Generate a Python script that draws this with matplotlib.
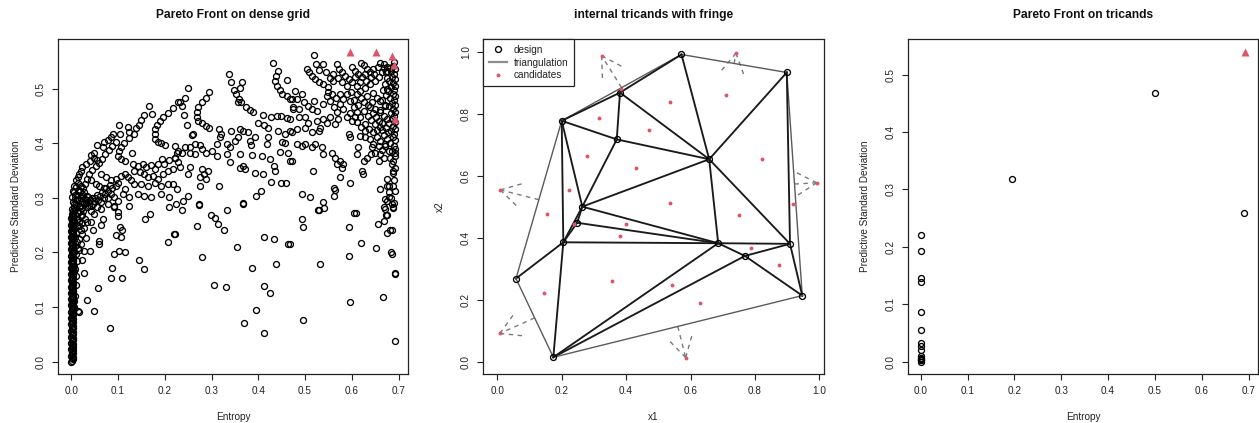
import matplotlib

matplotlib.use("Agg")
import matplotlib.pyplot as plt  # noqa: E402
import matplotlib.tri as mtri  # noqa: E402
import numpy as np  # noqa: E402
from matplotlib.lines import Line2D  # noqa: E402

plt.rcParams["font.family"] = ["Liberation Sans", "DejaVu Sans"]

RED = "#DF536B"
INK = "#1a1a1a"
GREY = "#7a7a7a"
FS = 7.2

# ---- dense grid: (entropy, predictive sd) ----
# the bulk of the grid sits at zero entropy
column_sd = [
    0.000, 0.002, 0.005, 0.007, 0.009, 0.011, 0.014, 0.016, 0.018, 0.021, 0.023, 0.025,
    0.027, 0.030, 0.032, 0.034, 0.037, 0.039, 0.041, 0.043, 0.046, 0.048, 0.050, 0.053,
    0.055, 0.057, 0.059, 0.062, 0.064, 0.066, 0.069, 0.071, 0.073, 0.075, 0.078, 0.080,
    0.082, 0.085, 0.087, 0.089, 0.091, 0.094, 0.096, 0.098, 0.101, 0.103, 0.105, 0.107,
    0.110, 0.112, 0.114, 0.117, 0.119, 0.121, 0.123, 0.126, 0.128, 0.130, 0.133, 0.135,
    0.137, 0.139, 0.142, 0.144, 0.146, 0.149, 0.151, 0.153, 0.155, 0.158, 0.160, 0.162,
    0.165, 0.167, 0.169, 0.171, 0.174, 0.176, 0.178, 0.181, 0.183, 0.185, 0.187, 0.190,
    0.192, 0.194, 0.197, 0.199, 0.201, 0.203, 0.206, 0.208, 0.210, 0.213, 0.215, 0.217,
    0.219, 0.222, 0.224, 0.226, 0.229, 0.231, 0.233, 0.235, 0.238, 0.240, 0.242, 0.245,
    0.247, 0.249, 0.251, 0.254, 0.256, 0.258, 0.261, 0.263, 0.265, 0.267, 0.270, 0.272,
]
column_ent = [
    0.000, 0.002, 0.004, 0.001, 0.003, 0.000, 0.002, 0.004, 0.001, 0.003, 0.000, 0.002,
    0.004, 0.001, 0.003, 0.000, 0.002, 0.004, 0.001, 0.003, 0.000, 0.002, 0.004, 0.001,
    0.003, 0.000, 0.002, 0.004, 0.001, 0.003, 0.000, 0.002, 0.004, 0.001, 0.003, 0.000,
    0.002, 0.004, 0.001, 0.003, 0.000, 0.002, 0.004, 0.001, 0.003, 0.000, 0.002, 0.004,
    0.001, 0.003, 0.000, 0.002, 0.004, 0.001, 0.003, 0.000, 0.002, 0.004, 0.001, 0.003,
    0.000, 0.002, 0.004, 0.001, 0.003, 0.000, 0.002, 0.004, 0.001, 0.003, 0.000, 0.002,
    0.004, 0.001, 0.003, 0.000, 0.002, 0.004, 0.001, 0.003, 0.000, 0.002, 0.004, 0.001,
    0.003, 0.000, 0.002, 0.004, 0.001, 0.003, 0.000, 0.002, 0.004, 0.001, 0.003, 0.000,
    0.002, 0.004, 0.001, 0.003, 0.000, 0.002, 0.004, 0.001, 0.003, 0.000, 0.002, 0.004,
    0.001, 0.003, 0.000, 0.002, 0.004, 0.001, 0.003, 0.000, 0.002, 0.004, 0.001, 0.003,
]
grid_knee = [
    (0.003, 0.276), (0.006, 0.284), (0.004, 0.292), (0.008, 0.298), (0.011, 0.288), (0.013, 0.305),
    (0.006, 0.310), (0.016, 0.296), (0.019, 0.285), (0.022, 0.293), (0.018, 0.312), (0.024, 0.304),
    (0.027, 0.291), (0.030, 0.298), (0.010, 0.320), (0.014, 0.327), (0.020, 0.322), (0.009, 0.268),
    (0.015, 0.272), (0.012, 0.262), (0.021, 0.266), (0.026, 0.276), (0.033, 0.283), (0.036, 0.292),
    (0.005, 0.258), (0.017, 0.255), (0.007, 0.245), (0.011, 0.235), (0.004, 0.225), (0.008, 0.212),
    (0.005, 0.200), (0.003, 0.185), (0.006, 0.175), (0.002, 0.150), (0.004, 0.130), (0.032, 0.297),
    (0.054, 0.306), (0.075, 0.319),
    (0.002, 0.280), (0.005, 0.288), (0.009, 0.306), (0.012, 0.296), (0.016, 0.283), (0.020, 0.300),
    (0.023, 0.282), (0.027, 0.310), (0.031, 0.290), (0.034, 0.303), (0.038, 0.286), (0.040, 0.297),
    (0.044, 0.300), (0.047, 0.288), (0.051, 0.300), (0.057, 0.297), (0.061, 0.304), (0.066, 0.310),
    (0.069, 0.300), (0.072, 0.308), (0.079, 0.300), (0.082, 0.324), (0.088, 0.318), (0.095, 0.322),
    (0.101, 0.328), (0.026, 0.318), (0.030, 0.326), (0.034, 0.334), (0.038, 0.344), (0.045, 0.352),
    (0.052, 0.358), (0.059, 0.364), (0.065, 0.372), (0.072, 0.380), (0.080, 0.388), (0.088, 0.395),
    (0.096, 0.403), (0.011, 0.281), (0.018, 0.276), (0.024, 0.268), (0.029, 0.262), (0.033, 0.255),
    (0.022, 0.254), (0.027, 0.245), (0.013, 0.248), (0.009, 0.228), (0.013, 0.220), (0.016, 0.205),
    (0.012, 0.185), (0.008, 0.170), (0.010, 0.140), (0.007, 0.120), (0.005, 0.100),
]
grid_left = [
    (0.167, 0.469), (0.172, 0.454), (0.155, 0.452), (0.149, 0.443), (0.144, 0.434), (0.139, 0.428),
    (0.134, 0.418), (0.124, 0.420), (0.121, 0.430), (0.103, 0.434), (0.105, 0.417), (0.089, 0.417),
    (0.084, 0.411), (0.078, 0.406), (0.071, 0.402), (0.056, 0.397), (0.067, 0.394),
    (0.228, 0.475), (0.217, 0.465), (0.206, 0.455), (0.196, 0.448), (0.189, 0.441), (0.184, 0.434),
    (0.179, 0.426), (0.178, 0.417), (0.180, 0.408), (0.185, 0.403), (0.192, 0.400), (0.201, 0.397),
    (0.124, 0.410), (0.112, 0.400), (0.106, 0.394), (0.103, 0.386), (0.101, 0.377), (0.106, 0.371),
    (0.114, 0.367), (0.129, 0.383),
    (0.048, 0.383), (0.042, 0.379), (0.049, 0.374), (0.055, 0.369), (0.039, 0.368), (0.031, 0.362),
    (0.024, 0.357), (0.021, 0.350), (0.017, 0.344), (0.014, 0.338), (0.010, 0.332), (0.006, 0.322),
    (0.003, 0.313), (0.001, 0.301),
    (0.131, 0.363), (0.142, 0.359), (0.153, 0.362), (0.160, 0.357), (0.171, 0.361), (0.178, 0.353),
    (0.185, 0.363), (0.194, 0.371), (0.199, 0.362), (0.210, 0.369), (0.221, 0.374), (0.226, 0.383),
    (0.135, 0.350), (0.146, 0.347), (0.156, 0.344), (0.164, 0.338), (0.174, 0.341), (0.185, 0.335),
    (0.196, 0.344), (0.206, 0.350), (0.217, 0.353),
    (0.064, 0.344), (0.074, 0.338), (0.085, 0.332), (0.096, 0.335), (0.106, 0.341), (0.114, 0.344),
    (0.121, 0.338), (0.128, 0.332),
    (0.042, 0.332), (0.053, 0.325), (0.060, 0.321), (0.071, 0.318), (0.078, 0.313), (0.085, 0.307),
    (0.092, 0.301), (0.099, 0.295),
    (0.114, 0.316), (0.135, 0.325), (0.149, 0.325), (0.164, 0.322), (0.178, 0.328), (0.192, 0.322),
    (0.206, 0.325), (0.217, 0.325),
    (0.110, 0.307), (0.124, 0.301), (0.142, 0.307), (0.156, 0.304), (0.171, 0.301), (0.192, 0.308),
    (0.210, 0.301), (0.224, 0.289),
    (0.014, 0.313), (0.024, 0.307), (0.035, 0.301), (0.049, 0.295), (0.064, 0.292), (0.078, 0.289),
    (0.092, 0.286), (0.042, 0.286),
]
grid_mid = [
    (0.431, 0.548), (0.443, 0.533), (0.437, 0.524), (0.436, 0.515), (0.439, 0.505), (0.446, 0.498),
    (0.450, 0.490), (0.461, 0.487), (0.471, 0.481), (0.461, 0.516), (0.475, 0.463),
    (0.338, 0.527), (0.341, 0.513), (0.348, 0.498), (0.353, 0.490), (0.358, 0.481), (0.364, 0.475),
    (0.373, 0.466), (0.382, 0.461), (0.389, 0.457), (0.366, 0.512), (0.361, 0.502), (0.357, 0.475),
    (0.249, 0.501), (0.243, 0.484), (0.232, 0.475), (0.237, 0.469),
    (0.295, 0.495), (0.288, 0.484), (0.279, 0.475), (0.271, 0.466), (0.268, 0.458), (0.268, 0.448),
    (0.271, 0.441), (0.279, 0.437), (0.289, 0.432), (0.295, 0.429),
    (0.241, 0.452), (0.247, 0.434), (0.259, 0.416),
    (0.410, 0.452), (0.427, 0.449), (0.439, 0.450), (0.449, 0.450), (0.461, 0.447), (0.468, 0.444),
    (0.400, 0.438), (0.413, 0.434), (0.421, 0.429), (0.443, 0.423), (0.457, 0.417), (0.471, 0.421),
    (0.316, 0.427), (0.321, 0.417), (0.318, 0.411), (0.341, 0.423), (0.361, 0.426), (0.368, 0.423),
    (0.377, 0.420), (0.357, 0.411), (0.350, 0.405), (0.332, 0.399), (0.339, 0.393), (0.311, 0.399),
    (0.382, 0.405), (0.384, 0.397), (0.393, 0.411), (0.421, 0.411), (0.418, 0.399), (0.450, 0.402),
    (0.457, 0.400), (0.464, 0.383), (0.446, 0.385),
    (0.221, 0.396), (0.229, 0.386), (0.236, 0.383), (0.243, 0.394), (0.254, 0.393), (0.264, 0.399),
    (0.275, 0.397), (0.279, 0.389), (0.289, 0.383), (0.300, 0.386), (0.254, 0.383), (0.264, 0.380),
    (0.221, 0.374), (0.229, 0.365), (0.232, 0.356), (0.261, 0.417),
    (0.311, 0.377), (0.332, 0.380), (0.339, 0.365), (0.361, 0.380), (0.368, 0.359), (0.361, 0.354),
    (0.371, 0.353), (0.386, 0.379), (0.407, 0.376), (0.425, 0.371), (0.434, 0.359), (0.436, 0.350),
    (0.393, 0.345), (0.409, 0.344), (0.427, 0.330), (0.449, 0.327), (0.459, 0.327), (0.468, 0.367),
    (0.279, 0.353), (0.284, 0.344), (0.293, 0.350), (0.289, 0.335), (0.275, 0.338), (0.254, 0.356),
    (0.250, 0.343),
    (0.316, 0.321), (0.275, 0.321), (0.227, 0.316), (0.249, 0.304), (0.239, 0.295), (0.273, 0.289),
    (0.395, 0.304), (0.405, 0.313), (0.368, 0.291),
]
grid_right = [
    (0.519, 0.562), (0.538, 0.546), (0.568, 0.546), (0.505, 0.537), (0.509, 0.530), (0.514, 0.524),
    (0.521, 0.518), (0.529, 0.512), (0.539, 0.509), (0.550, 0.504), (0.560, 0.528), (0.572, 0.536),
    (0.579, 0.530), (0.586, 0.524), (0.593, 0.518), (0.600, 0.512), (0.611, 0.505), (0.620, 0.548),
    (0.625, 0.543), (0.632, 0.536), (0.639, 0.530), (0.646, 0.537), (0.661, 0.548), (0.668, 0.539),
    (0.664, 0.530), (0.675, 0.532), (0.682, 0.539),
    (0.607, 0.521), (0.618, 0.496), (0.629, 0.502), (0.639, 0.509), (0.650, 0.515), (0.657, 0.521),
    (0.632, 0.487), (0.645, 0.492), (0.654, 0.484), (0.661, 0.478), (0.643, 0.475), (0.639, 0.466),
    (0.650, 0.463), (0.661, 0.457), (0.671, 0.469),
    (0.479, 0.496), (0.482, 0.481), (0.493, 0.490), (0.498, 0.475), (0.507, 0.469), (0.518, 0.478),
    (0.514, 0.463), (0.525, 0.459), (0.539, 0.472), (0.546, 0.487), (0.554, 0.478), (0.561, 0.466),
    (0.568, 0.457), (0.575, 0.472), (0.582, 0.481), (0.589, 0.490), (0.596, 0.478), (0.604, 0.466),
    (0.611, 0.457), (0.618, 0.448), (0.629, 0.435), (0.582, 0.463), (0.589, 0.448), (0.600, 0.441),
    (0.554, 0.448), (0.539, 0.445), (0.525, 0.441), (0.532, 0.429), (0.546, 0.438), (0.564, 0.435),
    (0.571, 0.445),
    (0.468, 0.481), (0.475, 0.466), (0.486, 0.463), (0.486, 0.448), (0.500, 0.448), (0.507, 0.438),
    (0.500, 0.429), (0.482, 0.426), (0.468, 0.423), (0.514, 0.420), (0.529, 0.423),
    (0.482, 0.398), (0.493, 0.396), (0.500, 0.399), (0.514, 0.393), (0.521, 0.399), (0.536, 0.393),
    (0.539, 0.380), (0.557, 0.383), (0.564, 0.374), (0.575, 0.368), (0.582, 0.362), (0.579, 0.355),
    (0.568, 0.362),
    (0.593, 0.417), (0.596, 0.411), (0.618, 0.414), (0.629, 0.411), (0.639, 0.408), (0.646, 0.399),
    (0.654, 0.411), (0.661, 0.405), (0.671, 0.396), (0.679, 0.386), (0.682, 0.374), (0.686, 0.362),
    (0.689, 0.350), (0.643, 0.393), (0.650, 0.383), (0.661, 0.380), (0.657, 0.368), (0.668, 0.374),
    (0.614, 0.393), (0.611, 0.380), (0.471, 0.368),
    (0.516, 0.350), (0.575, 0.338), (0.596, 0.328), (0.621, 0.350), (0.623, 0.344), (0.661, 0.316),
    (0.675, 0.335), (0.675, 0.322), (0.679, 0.310), (0.679, 0.301), (0.675, 0.295), (0.686, 0.289),
    (0.493, 0.308), (0.511, 0.302), (0.562, 0.318), (0.561, 0.304), (0.539, 0.292), (0.693, 0.383),
    (0.564, 0.314), (0.604, 0.273), (0.527, 0.278),
    (0.600, 0.540), (0.607, 0.533), (0.614, 0.527), (0.622, 0.522), (0.630, 0.515), (0.640, 0.522),
    (0.648, 0.528), (0.655, 0.540), (0.628, 0.527), (0.618, 0.513), (0.612, 0.490), (0.620, 0.483),
    (0.627, 0.476), (0.634, 0.470), (0.645, 0.455), (0.652, 0.448), (0.659, 0.441), (0.650, 0.435),
    (0.642, 0.442), (0.635, 0.450), (0.625, 0.460), (0.614, 0.470), (0.605, 0.480), (0.598, 0.495),
    (0.590, 0.505), (0.580, 0.512), (0.570, 0.520), (0.560, 0.515), (0.553, 0.520), (0.545, 0.530),
    (0.530, 0.535), (0.523, 0.545), (0.548, 0.495), (0.557, 0.490), (0.566, 0.484), (0.574, 0.490),
    (0.597, 0.455), (0.606, 0.448), (0.612, 0.440), (0.620, 0.430), (0.628, 0.422), (0.636, 0.427),
    (0.645, 0.420), (0.653, 0.425), (0.660, 0.430), (0.665, 0.425), (0.657, 0.395), (0.664, 0.388),
    (0.640, 0.380), (0.632, 0.373), (0.625, 0.368),
]
grid_edge = [
    (0.690, 0.550), (0.688, 0.542), (0.693, 0.536), (0.684, 0.533), (0.691, 0.528), (0.686, 0.522),
    (0.693, 0.518), (0.680, 0.515), (0.689, 0.511), (0.693, 0.505), (0.684, 0.503), (0.691, 0.498),
    (0.678, 0.496), (0.687, 0.491), (0.693, 0.487), (0.682, 0.484), (0.690, 0.479), (0.685, 0.474),
    (0.693, 0.470), (0.679, 0.468), (0.688, 0.463), (0.692, 0.458), (0.683, 0.455), (0.690, 0.450),
    (0.686, 0.444), (0.693, 0.440), (0.680, 0.437), (0.689, 0.432), (0.693, 0.426), (0.684, 0.423),
    (0.691, 0.418), (0.687, 0.412), (0.693, 0.406), (0.682, 0.401), (0.690, 0.396), (0.692, 0.390),
    (0.686, 0.386), (0.693, 0.376), (0.689, 0.368), (0.692, 0.355), (0.687, 0.346), (0.691, 0.333),
    (0.688, 0.322), (0.693, 0.312), (0.684, 0.300), (0.690, 0.290), (0.676, 0.540), (0.672, 0.530),
    (0.668, 0.545), (0.675, 0.520), (0.670, 0.508), (0.676, 0.500), (0.666, 0.497), (0.673, 0.488),
    (0.664, 0.480), (0.671, 0.470), (0.660, 0.462), (0.668, 0.450), (0.675, 0.445), (0.664, 0.438),
    (0.672, 0.428), (0.678, 0.420), (0.668, 0.415), (0.676, 0.408), (0.670, 0.398),
    (0.679, 0.322), (0.671, 0.298), (0.670, 0.280), (0.673, 0.268), (0.669, 0.257), (0.682, 0.242),
    (0.688, 0.282), (0.686, 0.198),
]
grid_low = [
    (0.017, 0.248), (0.021, 0.242), (0.024, 0.233), (0.031, 0.227), (0.017, 0.224), (0.021, 0.215),
    (0.014, 0.209), (0.028, 0.203), (0.010, 0.197), (0.024, 0.187), (0.006, 0.166), (0.028, 0.163),
    (0.010, 0.157), (0.006, 0.111), (0.017, 0.090), (0.014, 0.093), (0.039, 0.203), (0.046, 0.242),
    (0.042, 0.255), (0.049, 0.270), (0.060, 0.221), (0.060, 0.216), (0.067, 0.261), (0.064, 0.250),
    (0.048, 0.092), (0.034, 0.113), (0.058, 0.134), (0.083, 0.061), (0.087, 0.172), (0.086, 0.153),
    (0.109, 0.153), (0.091, 0.197), (0.103, 0.203), (0.115, 0.200), (0.144, 0.187), (0.156, 0.169),
    (0.096, 0.232), (0.106, 0.228), (0.105, 0.247), (0.108, 0.242), (0.099, 0.267), (0.101, 0.275),
    (0.092, 0.283), (0.124, 0.285), (0.158, 0.261), (0.169, 0.271), (0.210, 0.283), (0.206, 0.220),
    (0.219, 0.233), (0.064, 0.279), (0.042, 0.276), (0.056, 0.283),
    (0.236, 0.277), (0.273, 0.287), (0.332, 0.277), (0.368, 0.288), (0.299, 0.269), (0.307, 0.264),
    (0.314, 0.252), (0.327, 0.242), (0.268, 0.248), (0.221, 0.234), (0.279, 0.192), (0.355, 0.210),
    (0.412, 0.229), (0.434, 0.224), (0.464, 0.215), (0.386, 0.171), (0.437, 0.178), (0.306, 0.140),
    (0.331, 0.137), (0.413, 0.139), (0.424, 0.125), (0.394, 0.095), (0.369, 0.071), (0.413, 0.052),
    (0.529, 0.277), (0.541, 0.281), (0.494, 0.262), (0.495, 0.247), (0.468, 0.215), (0.609, 0.273),
    (0.594, 0.247), (0.669, 0.283), (0.689, 0.283), (0.675, 0.268), (0.655, 0.253), (0.676, 0.236),
    (0.686, 0.241), (0.619, 0.218), (0.651, 0.208), (0.683, 0.201), (0.594, 0.194), (0.531, 0.179),
    (0.693, 0.161), (0.692, 0.162), (0.666, 0.118), (0.595, 0.109), (0.495, 0.076), (0.692, 0.037),
]
grid_front = [(0.595, 0.568), (0.652, 0.568), (0.686, 0.560), (0.691, 0.544), (0.693, 0.445)]

# ---- design and fringe candidates on [0,1]^2 ----
design_x1 = [0.572, 0.899, 0.381, 0.200, 0.371, 0.658, 0.264, 0.248,
             0.205, 0.686, 0.909, 0.769, 0.058, 0.947, 0.174]
design_x2 = [0.991, 0.933, 0.868, 0.777, 0.717, 0.653, 0.500, 0.448,
             0.385, 0.382, 0.380, 0.341, 0.268, 0.213, 0.014]
# hull edge (design indices) each fringe candidate was pushed out from
fringe_edge = [(3, 0), (0, 1), (1, 13), (13, 14), (14, 12), (12, 3)]
fringe_x1 = [0.324, 0.741, 0.992, 0.585, 0.008, 0.009]
fringe_x2 = [0.987, 0.995, 0.577, 0.013, 0.091, 0.554]

# ---- pareto front on tricands ----
tri_entropy = [0.001, 0.001, 0.001, 0.001, 0.001, 0.001, 0.001, 0.001, 0.001, 0.001,
               0.001, 0.001, 0.000, 0.001, 0.000, 0.194, 0.500, 0.690]
tri_sd = [0.221, 0.193, 0.146, 0.139, 0.087, 0.055, 0.032, 0.028, 0.021, 0.009,
          0.006, 0.004, 0.003, 0.002, 0.000, 0.319, 0.4675, 0.259]
tri_front_entropy = [0.6931]
tri_front_sd = [0.540]


def r_range(*vals):
    v = np.concatenate([np.ravel(a) for a in vals])
    d = (v.max() - v.min()) * 0.04
    return v.min() - d, v.max() + d


def style(ax, title, xlabel, ylabel, xticks, yticks, ylab_x):
    for s in ax.spines.values():
        s.set_linewidth(0.9)
        s.set_color("#222222")
    ax.set_xticks(xticks)
    ax.set_yticks(yticks)
    ax.set_xticklabels([f"{t:.1f}" for t in xticks])
    ax.set_yticklabels([f"{t:.1f}" for t in yticks])
    ax.tick_params(direction="out", length=4.3, width=0.8, labelsize=FS,
                   colors="#222222", pad=4.6)
    for lab in ax.get_yticklabels():
        lab.set_rotation(90)
        lab.set_va("center")
    ax.text(0.5, 1.0726, title, transform=ax.transAxes, ha="center", va="center",
            fontsize=8.64, fontweight="bold", color="#111111")
    ax.set_xlabel(xlabel, fontsize=FS, color="#222222")
    ax.set_ylabel(ylabel, fontsize=FS, color="#222222")
    ax.xaxis.set_label_coords(0.5, -0.1276)
    ax.xaxis.label.set_va("center")
    ax.yaxis.set_label_coords(ylab_x, 0.5)
    ax.yaxis.label.set_va("center")


W, H = 1259, 423
fig = plt.figure(figsize=(W / 100, H / 100), dpi=100)


def box(left, right, top=39.3, bottom=374.0):
    return [left / W, (H - bottom) / H, (right - left) / W, (bottom - top) / H]


circ = dict(ls="none", marker="o", mfc="none", mec="black", ms=4.3, mew=0.95)
tri_mark = dict(ls="none", marker="^", color=RED, mec="none", ms=6.2)

# left: dense grid
ax1 = fig.add_axes(box(58.3, 408.3))
pts = np.array(grid_knee + grid_left + grid_mid + grid_right + grid_edge + grid_low)
front = np.array(grid_front)
ax1.plot(column_ent, column_sd, **circ)
ax1.plot(pts[:, 0], pts[:, 1], **circ)
ax1.plot(front[:, 0], front[:, 1], **tri_mark)
ax1.set_xlim(r_range(pts[:, 0], column_ent, front[:, 0]))
ax1.set_ylim(r_range(pts[:, 1], column_sd, front[:, 1]))
style(ax1, "Pareto Front on dense grid", "Entropy", "Predictive Standard Deviation",
      np.arange(0, 0.71, 0.1), np.arange(0, 0.51, 0.1), -0.121)

# middle: triangulation with fringe
ax2 = fig.add_axes(box(483.3, 824.0))
ax2.set_xlim(-0.0435, 1.0146)
ax2.set_ylim(-0.04, 1.04)
dx = np.array(design_x1)
dy = np.array(design_x2)
tri = mtri.Triangulation(dx, dy)
for t, verts in enumerate(tri.triangles):
    for j in range(3):
        a, b = verts[j], verts[(j + 1) % 3]
        nb = tri.neighbors[t, j]
        if nb == -1:
            ax2.plot(dx[[a, b]], dy[[a, b]], color="#5a5a5a", lw=1.0, zorder=2)
        elif nb > t:
            ax2.plot(dx[[a, b]], dy[[a, b]], color=INK, lw=1.35, zorder=2)
ax2.plot(dx, dy, **circ, zorder=3)
cx = dx[tri.triangles].mean(axis=1)
cy = dy[tri.triangles].mean(axis=1)
ax2.plot(cx, cy, ls="none", marker="o", color=RED, mec="none", ms=2.8, zorder=4)
ax2.plot(fringe_x1, fringe_x2, ls="none", marker="o", color=RED, mec="none", ms=2.8, zorder=4)

# dashed arrows from hull-edge midpoints out to the fringe candidates
dash = dict(color=GREY, lw=1.0, ls=(0, (3.2, 3.2)), zorder=1)
to_px = ax2.transData
for (i, k), fx, fy in zip(fringe_edge, fringe_x1, fringe_x2):
    mx, my = (dx[i] + dx[k]) / 2, (dy[i] + dy[k]) / 2
    ax2.plot([mx, fx], [my, fy], **dash)
    tip = to_px.transform((fx, fy))
    back = to_px.transform((mx, my)) - tip
    back /= np.hypot(*back)
    for ang in (np.radians(30), -np.radians(30)):
        rot = np.array([back[0] * np.cos(ang) - back[1] * np.sin(ang),
                        back[0] * np.sin(ang) + back[1] * np.cos(ang)])
        hx, hy = to_px.inverted().transform(tip + rot * 23)
        ax2.plot([fx, hx], [fy, hy], **dash)

handles = [
    Line2D([], [], **circ),
    Line2D([], [], color="#8c8c8c", lw=1.6),
    Line2D([], [], ls="none", marker="o", color=RED, mec="none", ms=2.8),
]
leg = ax2.legend(handles, ["design", "triangulation", "candidates"], loc="upper left",
                 bbox_to_anchor=(0, 1), borderaxespad=0, fancybox=False, fontsize=FS,
                 handlelength=1.8, handletextpad=0.7, labelspacing=0.28, borderpad=0.55,
                 framealpha=1)
leg.get_frame().set_edgecolor("#222222")
leg.get_frame().set_linewidth(0.9)
for txt in leg.get_texts():
    txt.set_color("#222222")
style(ax2, "internal tricands with fringe", "x1", "x2",
      np.arange(0, 1.01, 0.2), np.arange(0, 1.01, 0.2), -0.127)

# right: pareto front among tricands
ax3 = fig.add_axes(box(907.7, 1258.3))
ax3.plot(tri_entropy, tri_sd, **circ)
ax3.plot(tri_front_entropy, tri_front_sd, **tri_mark)
ax3.set_xlim(r_range(tri_entropy, tri_front_entropy))
ax3.set_ylim(r_range(tri_sd, tri_front_sd))
style(ax3, "Pareto Front on tricands", "Entropy", "Predictive Standard Deviation",
      np.arange(0, 0.71, 0.1), np.arange(0, 0.51, 0.1), -0.122)

fig.savefig("out.png", dpi=100)
